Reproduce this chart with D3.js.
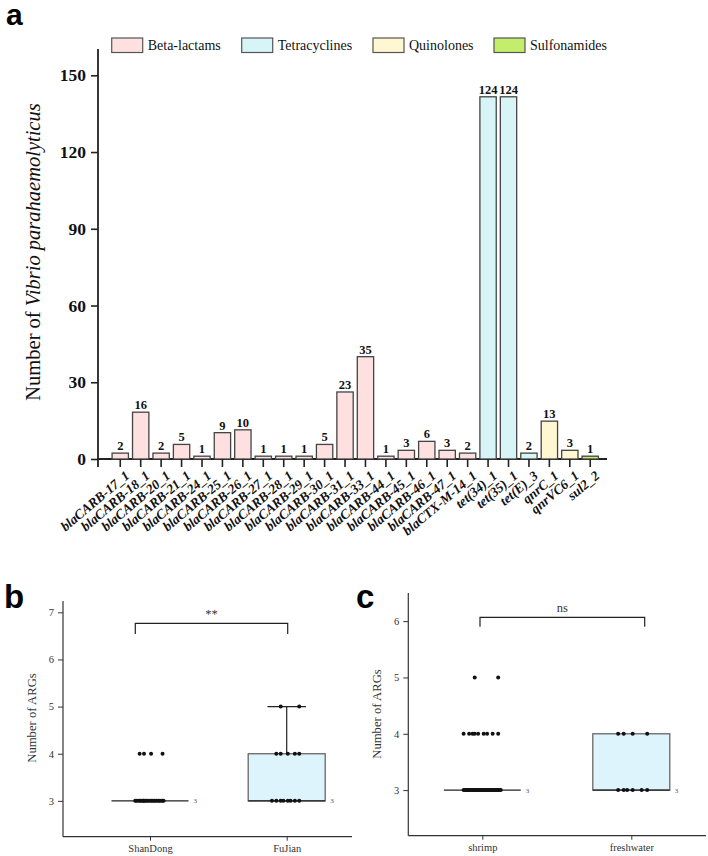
<!DOCTYPE html>
<html>
<head>
<meta charset="utf-8">
<script src="https://cdn.jsdelivr.net/npm/d3@7"></script>
<style>
  body { margin: 0; background: #fff; }
  svg { display: block; }
</style>
</head>
<body>
<script>
// ---- data ----
var genes = ["blaCARB-17_1", "blaCARB-18_1", "blaCARB-20_1", "blaCARB-21_1", "blaCARB-24_1",
  "blaCARB-25_1", "blaCARB-26_1", "blaCARB-27_1", "blaCARB-28_1", "blaCARB-29_1", "blaCARB-30_1",
  "blaCARB-31_1", "blaCARB-33_1", "blaCARB-44_1", "blaCARB-45_1", "blaCARB-46_1", "blaCARB-47_1",
  "blaCTX-M-14_1", "tet(34)_1", "tet(35)_1", "tet(E)_3", "qnrC_1", "qnrVC6_1", "sul2_2"];
var geneClass = ["Beta-lactams", "Beta-lactams", "Beta-lactams", "Beta-lactams", "Beta-lactams",
  "Beta-lactams", "Beta-lactams", "Beta-lactams", "Beta-lactams", "Beta-lactams", "Beta-lactams",
  "Beta-lactams", "Beta-lactams", "Beta-lactams", "Beta-lactams", "Beta-lactams", "Beta-lactams",
  "Beta-lactams", "Tetracyclines", "Tetracyclines", "Tetracyclines", "Quinolones", "Quinolones", "Sulfonamides"];
// printed counts above the bars
var counts = [2, 16, 2, 5, 1, 9, 10, 1, 1, 1, 5, 23, 35, 1, 3, 6, 3, 2, 124, 124, 2, 13, 3, 1];
// bar heights as drawn against the y axis
var heights = [2.3, 18.3, 2.3, 5.7, 1.1, 10.3, 11.4, 1.1, 1.1, 1.1, 5.7, 26.2, 40, 1.1, 3.4, 6.9, 3.4,
  2.3, 141.6, 141.6, 2.3, 14.8, 3.4, 1.1];
var classes = ["Beta-lactams", "Tetracyclines", "Quinolones", "Sulfonamides"];
var classColors = ["#fde0df", "#d7f5f7", "#fff6d2", "#c2ee6c"];
var yTicksA = [0, 30, 60, 90, 120, 150];

// panel b: ARGs per isolate by province
var provinces = ["ShanDong", "FuJian"];
var shandong = [3, 3, 3, 3, 3, 3, 3, 3, 3, 3, 3, 3, 3, 3, 3, 3, 3, 3, 3, 3, 3, 3, 4, 4, 4, 4];
var fujian = [3, 3, 3, 3, 3, 3, 3, 3, 4, 4, 4, 4, 4, 5, 5];
// panel c: ARGs per isolate by source
var sources = ["shrimp", "freshwater"];
var shrimp = [3, 3, 3, 3, 3, 3, 3, 3, 3, 3, 3, 3, 3, 3, 3, 3, 3, 3, 3, 3, 3, 3, 3, 3, 3, 3, 3, 3, 3, 3, 3, 3,
  3, 3, 4, 4, 4, 4, 4, 4, 4, 4, 4, 5, 5];
var freshwater = [3, 3, 3, 3, 3, 3, 4, 4, 4, 4];

var svg = d3.select("body").append("svg").attr("width", 708).attr("height", 856);
var serif = "'Liberation Serif', 'Times New Roman', serif";
var sans = "'Liberation Sans', Arial, sans-serif";

// ================= panel a =================
svg.append("text").attr("x", 6).attr("y", 25).attr("font-family", sans).attr("font-weight", "bold")
  .attr("font-size", 30).text("a");

var x = d3.scaleBand().domain(genes).range([108, 602.5]).padding(0.2);
var y = d3.scaleLinear().domain([0, 150]).range([459, 75.3]);
var colorOf = d3.scaleOrdinal().domain(classes).range(classColors);

var gA = svg.append("g");
// y axis
var yAxis = gA.append("g").attr("transform", "translate(98,0)")
  .call(d3.axisLeft(y).tickValues(yTicksA).tickSize(7).tickSizeOuter(0).tickPadding(5));
yAxis.select(".domain").remove();
yAxis.selectAll("line").attr("stroke", "#222").attr("stroke-width", 1.6);
yAxis.selectAll("text").attr("font-family", serif).attr("font-weight", "bold").attr("font-size", 17.5)
  .attr("fill", "#111");
gA.append("line").attr("x1", 98).attr("x2", 98).attr("y1", 49).attr("y2", 467)
  .attr("stroke", "#222").attr("stroke-width", 1.8);
gA.append("line").attr("x1", 97).attr("x2", 607).attr("y1", 459).attr("y2", 459)
  .attr("stroke", "#222").attr("stroke-width", 1.8);

// bars
gA.selectAll("rect.bar").data(genes).enter().append("rect").attr("class", "bar")
  .attr("x", function (d) { return x(d); })
  .attr("width", x.bandwidth())
  .attr("y", function (d, i) { return y(heights[i]); })
  .attr("height", function (d, i) { return y(0) - y(heights[i]); })
  .attr("fill", function (d, i) { return colorOf(geneClass[i]); })
  .attr("stroke", "#444").attr("stroke-width", 1.3);

gA.selectAll("text.cnt").data(genes).enter().append("text").attr("class", "cnt")
  .attr("x", function (d) { return x(d) + x.bandwidth() / 2; })
  .attr("y", function (d, i) { return y(heights[i]) - 3; })
  .attr("text-anchor", "middle").attr("font-family", serif).attr("font-weight", "bold")
  .attr("font-size", 12.5).attr("fill", "#111")
  .text(function (d, i) { return counts[i]; });

// x ticks + labels
gA.selectAll("line.xt").data(genes).enter().append("line").attr("class", "xt")
  .attr("x1", function (d) { return x(d) + x.bandwidth() / 2; })
  .attr("x2", function (d) { return x(d) + x.bandwidth() / 2; })
  .attr("y1", 459).attr("y2", 467).attr("stroke", "#222").attr("stroke-width", 1.6);
gA.selectAll("text.xl").data(genes).enter().append("text").attr("class", "xl")
  .attr("transform", function (d) {
    return "translate(" + (x(d) + x.bandwidth() / 2 + 4) + ",470) rotate(-40)";
  })
  .attr("dy", "0.7em").attr("text-anchor", "end")
  .attr("font-family", serif).attr("font-weight", "bold").attr("font-style", "italic")
  .attr("font-size", 13.5).attr("fill", "#111")
  .text(function (d) { return d; });

// y title
var yt = gA.append("text").attr("transform", "translate(40,252) rotate(-90)")
  .attr("text-anchor", "middle").attr("font-family", serif).attr("font-size", 20.5).attr("fill", "#111");
yt.append("tspan").text("Number of ");
yt.append("tspan").attr("font-style", "italic").text("Vibrio parahaemolyticus");

// legend
var legX = [111.7, 241.7, 373, 494];
var leg = gA.selectAll("g.leg").data(classes).enter().append("g").attr("class", "leg")
  .attr("transform", function (d, i) { return "translate(" + legX[i] + ",38)"; });
leg.append("rect").attr("width", 31).attr("height", 14.5)
  .attr("fill", function (d) { return colorOf(d); }).attr("stroke", "#555").attr("stroke-width", 1.2);
leg.append("text").attr("x", 36).attr("y", 12).attr("font-family", serif).attr("font-size", 14)
  .attr("fill", "#111").text(function (d) { return d; });

// ================= box panels =================
function boxPanel(opt) {
  var g = svg.append("g");
  g.append("text").attr("x", opt.letterX).attr("y", opt.letterY).attr("font-family", sans)
    .attr("font-weight", "bold").attr("font-size", 33).text(opt.letter);

  var xs = d3.scalePoint().domain(opt.cats).range(opt.xr);
  var ys = d3.scaleLinear().domain(opt.yd).range([opt.bottom, opt.top]);

  // axes
  g.append("line").attr("x1", opt.left).attr("x2", opt.left).attr("y1", opt.top).attr("y2", opt.bottom)
    .attr("stroke", "#333").attr("stroke-width", 1.2);
  g.append("line").attr("x1", opt.left).attr("x2", opt.right).attr("y1", opt.bottom).attr("y2", opt.bottom)
    .attr("stroke", "#333").attr("stroke-width", 1.2);
  var ya = g.append("g").attr("transform", "translate(" + opt.left + ",0)")
    .call(d3.axisLeft(ys).tickValues(opt.ticks).tickFormat(d3.format("d")).tickSize(5).tickPadding(4));
  ya.select(".domain").remove();
  ya.selectAll("line").attr("stroke", "#333");
  ya.selectAll("text").attr("font-family", serif).attr("font-size", 10.5).attr("fill", "#333");
  var xa = g.append("g").attr("transform", "translate(0," + opt.bottom + ")")
    .call(d3.axisBottom(xs).tickSize(4).tickSizeOuter(0).tickPadding(4));
  xa.select(".domain").remove();
  xa.selectAll("line").attr("stroke", "#333");
  xa.selectAll("text").attr("font-family", serif).attr("font-size", 10.5).attr("fill", "#333");

  g.append("text").attr("transform", "translate(" + opt.titleX + "," + opt.titleY + ") rotate(-90)")
    .attr("text-anchor", "middle").attr("font-family", serif).attr("font-size", 12.7).attr("fill", "#333")
    .text("Number of ARGs");

  var bw = 77;
  opt.groups.forEach(function (vals, k) {
    var cx = xs(opt.cats[k]);
    var s = vals.slice().sort(d3.ascending);
    var q1 = d3.quantile(s, 0.25), med = d3.quantile(s, 0.5), q3 = d3.quantile(s, 0.75);
    var iqr = q3 - q1;
    var hi = d3.max(s.filter(function (v) { return v <= q3 + 1.5 * iqr; }));
    var lo = d3.min(s.filter(function (v) { return v >= q1 - 1.5 * iqr; }));
    if (hi > q3) {
      g.append("line").attr("x1", cx).attr("x2", cx).attr("y1", ys(q3)).attr("y2", ys(hi))
        .attr("stroke", "#222").attr("stroke-width", 1.2);
      g.append("line").attr("x1", cx - bw / 4).attr("x2", cx + bw / 4).attr("y1", ys(hi)).attr("y2", ys(hi))
        .attr("stroke", "#222").attr("stroke-width", 1.2);
    }
    if (lo < q1) {
      g.append("line").attr("x1", cx).attr("x2", cx).attr("y1", ys(q1)).attr("y2", ys(lo))
        .attr("stroke", "#222").attr("stroke-width", 1.2);
    }
    if (q3 > q1) {
      g.append("rect").attr("x", cx - bw / 2).attr("width", bw).attr("y", ys(q3))
        .attr("height", ys(q1) - ys(q3)).attr("fill", "#ddf4fc").attr("stroke", "#666").attr("stroke-width", 1.3);
    }
    g.append("line").attr("x1", cx - bw / 2).attr("x2", cx + bw / 2).attr("y1", ys(med)).attr("y2", ys(med))
      .attr("stroke", "#222").attr("stroke-width", 1.3);
    g.append("text").attr("x", cx + bw / 2 + 5).attr("y", ys(med) + 2.5).attr("font-family", serif)
      .attr("font-size", 7).attr("fill", "#555").text(med);

    // jittered points (deterministic spread per value level)
    var seen = {};
    vals.forEach(function (v) {
      var j = seen[v] || 0;
      seen[v] = j + 1;
      var off = (((j * 0.618034 + 0.3) % 1) - 0.5) * opt.jit;
      g.append("circle").attr("cx", cx + off).attr("cy", ys(v)).attr("r", 2).attr("fill", "#111");
    });
  });

  // significance bracket
  var by = opt.bracketY;
  g.append("path")
    .attr("d", "M" + opt.bx[0] + "," + (by + opt.bdrop) + "V" + by + "H" + opt.bx[1] + "V" + (by + opt.bdrop))
    .attr("fill", "none").attr("stroke", "#222").attr("stroke-width", 1.2);
  g.append("text").attr("x", (opt.bx[0] + opt.bx[1]) / 2).attr("y", by - 5).attr("text-anchor", "middle")
    .attr("font-family", serif).attr("font-size", 12.5).attr("fill", "#333").text(opt.sig);
}

boxPanel({
  letter: "b", letterX: 4, letterY: 608, cats: provinces, groups: [shandong, fujian],
  xr: [150, 286.7], yd: [2.24, 7.24], ticks: [3, 4, 5, 6, 7],
  left: 63, right: 352, top: 601, bottom: 836.7, titleX: 36, titleY: 718,
  jit: 30, bracketY: 623.3, bx: [135.3, 287.7], bdrop: 10.7, sig: "**"
});
boxPanel({
  letter: "c", letterX: 356, letterY: 608, cats: sources, groups: [shrimp, freshwater],
  xr: [482.3, 631.3], yd: [2.19, 6.5], ticks: [3, 4, 5, 6],
  left: 408.3, right: 706, top: 593, bottom: 835.7, titleX: 381, titleY: 714,
  jit: 38, bracketY: 617.3, bx: [480, 644.7], bdrop: 9.4, sig: "ns"
});
</script>
</body>
</html>
